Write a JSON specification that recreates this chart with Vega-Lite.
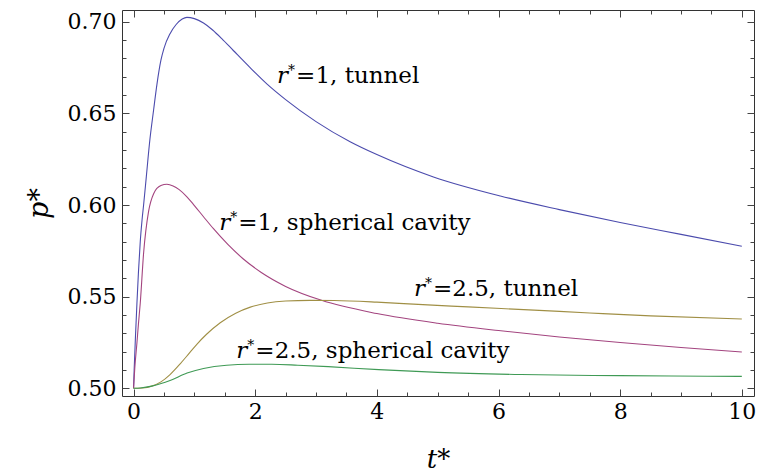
{
  "$schema": "https://vega.github.io/schema/vega-lite/v6.json",
  "width": 632,
  "height": 386,
  "autosize": "none",
  "padding": {"left": 122, "top": 10, "right": 6, "bottom": 79},
  "background": "white",
  "config": {
    "view": {"stroke": null},
    "font": "DejaVu Serif",
    "axis": {
      "grid": false,
      "labelFont": "DejaVu Serif",
      "titleFont": "DejaVu Serif",
      "labelColor": "#000",
      "titleColor": "#000",
      "tickColor": "#444",
      "domainColor": "#333",
      "labelFontWeight": "normal",
      "titleFontWeight": "normal"
    }
  },
  "datasets": {
    "curves": [
      {"series": "r1 tunnel", "t": 0, "p": 0.5},
      {"series": "r1 tunnel", "t": 0.01, "p": 0.51},
      {"series": "r1 tunnel", "t": 0.03, "p": 0.527},
      {"series": "r1 tunnel", "t": 0.055, "p": 0.546},
      {"series": "r1 tunnel", "t": 0.08, "p": 0.563},
      {"series": "r1 tunnel", "t": 0.11, "p": 0.58},
      {"series": "r1 tunnel", "t": 0.14, "p": 0.592},
      {"series": "r1 tunnel", "t": 0.165, "p": 0.6},
      {"series": "r1 tunnel", "t": 0.21, "p": 0.6155},
      {"series": "r1 tunnel", "t": 0.263, "p": 0.634},
      {"series": "r1 tunnel", "t": 0.33, "p": 0.652},
      {"series": "r1 tunnel", "t": 0.385, "p": 0.666},
      {"series": "r1 tunnel", "t": 0.45, "p": 0.679},
      {"series": "r1 tunnel", "t": 0.5, "p": 0.6855},
      {"series": "r1 tunnel", "t": 0.6, "p": 0.6935},
      {"series": "r1 tunnel", "t": 0.7, "p": 0.6985},
      {"series": "r1 tunnel", "t": 0.8, "p": 0.7015},
      {"series": "r1 tunnel", "t": 0.877, "p": 0.7024},
      {"series": "r1 tunnel", "t": 1.0, "p": 0.7017},
      {"series": "r1 tunnel", "t": 1.15, "p": 0.6993},
      {"series": "r1 tunnel", "t": 1.3, "p": 0.6955},
      {"series": "r1 tunnel", "t": 1.45, "p": 0.6908},
      {"series": "r1 tunnel", "t": 1.64, "p": 0.6843},
      {"series": "r1 tunnel", "t": 1.92, "p": 0.6748},
      {"series": "r1 tunnel", "t": 2.2, "p": 0.6658},
      {"series": "r1 tunnel", "t": 2.5, "p": 0.6575},
      {"series": "r1 tunnel", "t": 3.0, "p": 0.6455},
      {"series": "r1 tunnel", "t": 3.56, "p": 0.6345},
      {"series": "r1 tunnel", "t": 4.0, "p": 0.6275},
      {"series": "r1 tunnel", "t": 4.93, "p": 0.6153},
      {"series": "r1 tunnel", "t": 6.03, "p": 0.6049},
      {"series": "r1 tunnel", "t": 7.0, "p": 0.5975},
      {"series": "r1 tunnel", "t": 8.0, "p": 0.5905},
      {"series": "r1 tunnel", "t": 9.0, "p": 0.584},
      {"series": "r1 tunnel", "t": 10.0, "p": 0.5775},

      {"series": "r1 sphere", "t": 0, "p": 0.5},
      {"series": "r1 sphere", "t": 0.02, "p": 0.511},
      {"series": "r1 sphere", "t": 0.055, "p": 0.5246},
      {"series": "r1 sphere", "t": 0.08, "p": 0.535},
      {"series": "r1 sphere", "t": 0.11, "p": 0.5464},
      {"series": "r1 sphere", "t": 0.165, "p": 0.5737},
      {"series": "r1 sphere", "t": 0.247, "p": 0.5965},
      {"series": "r1 sphere", "t": 0.33, "p": 0.6062},
      {"series": "r1 sphere", "t": 0.45, "p": 0.6106},
      {"series": "r1 sphere", "t": 0.549, "p": 0.6113},
      {"series": "r1 sphere", "t": 0.65, "p": 0.6104},
      {"series": "r1 sphere", "t": 0.75, "p": 0.6084},
      {"series": "r1 sphere", "t": 0.877, "p": 0.6045},
      {"series": "r1 sphere", "t": 1.0, "p": 0.5997},
      {"series": "r1 sphere", "t": 1.15, "p": 0.5936},
      {"series": "r1 sphere", "t": 1.31, "p": 0.5872},
      {"series": "r1 sphere", "t": 1.55, "p": 0.5785},
      {"series": "r1 sphere", "t": 1.8, "p": 0.5707},
      {"series": "r1 sphere", "t": 2.1, "p": 0.5632},
      {"series": "r1 sphere", "t": 2.5, "p": 0.5556},
      {"series": "r1 sphere", "t": 3.09, "p": 0.548},
      {"series": "r1 sphere", "t": 4.0, "p": 0.5408},
      {"series": "r1 sphere", "t": 5.0, "p": 0.5355},
      {"series": "r1 sphere", "t": 6.0, "p": 0.5315},
      {"series": "r1 sphere", "t": 7.0, "p": 0.528},
      {"series": "r1 sphere", "t": 8.0, "p": 0.525},
      {"series": "r1 sphere", "t": 9.0, "p": 0.5223},
      {"series": "r1 sphere", "t": 10.0, "p": 0.5198},

      {"series": "r2.5 tunnel", "t": 0, "p": 0.5},
      {"series": "r2.5 tunnel", "t": 0.15, "p": 0.5002},
      {"series": "r2.5 tunnel", "t": 0.3, "p": 0.5012},
      {"series": "r2.5 tunnel", "t": 0.45, "p": 0.5035},
      {"series": "r2.5 tunnel", "t": 0.6, "p": 0.5075},
      {"series": "r2.5 tunnel", "t": 0.77, "p": 0.5135},
      {"series": "r2.5 tunnel", "t": 0.9, "p": 0.5185},
      {"series": "r2.5 tunnel", "t": 1.04, "p": 0.524},
      {"series": "r2.5 tunnel", "t": 1.2, "p": 0.5295},
      {"series": "r2.5 tunnel", "t": 1.425, "p": 0.5358},
      {"series": "r2.5 tunnel", "t": 1.68, "p": 0.541},
      {"series": "r2.5 tunnel", "t": 1.92, "p": 0.5443},
      {"series": "r2.5 tunnel", "t": 2.2, "p": 0.5465},
      {"series": "r2.5 tunnel", "t": 2.5, "p": 0.5476},
      {"series": "r2.5 tunnel", "t": 2.9, "p": 0.548},
      {"series": "r2.5 tunnel", "t": 3.3, "p": 0.5479},
      {"series": "r2.5 tunnel", "t": 4.0, "p": 0.547},
      {"series": "r2.5 tunnel", "t": 4.6, "p": 0.5459},
      {"series": "r2.5 tunnel", "t": 5.5, "p": 0.5444},
      {"series": "r2.5 tunnel", "t": 6.5, "p": 0.5428},
      {"series": "r2.5 tunnel", "t": 7.5, "p": 0.5411},
      {"series": "r2.5 tunnel", "t": 8.5, "p": 0.5395},
      {"series": "r2.5 tunnel", "t": 10.0, "p": 0.5378},

      {"series": "r2.5 sphere", "t": 0, "p": 0.5},
      {"series": "r2.5 sphere", "t": 0.11, "p": 0.5002},
      {"series": "r2.5 sphere", "t": 0.3, "p": 0.5012},
      {"series": "r2.5 sphere", "t": 0.44, "p": 0.5025},
      {"series": "r2.5 sphere", "t": 0.6, "p": 0.5043},
      {"series": "r2.5 sphere", "t": 0.88, "p": 0.5083},
      {"series": "r2.5 sphere", "t": 1.15, "p": 0.5108},
      {"series": "r2.5 sphere", "t": 1.53, "p": 0.5126},
      {"series": "r2.5 sphere", "t": 1.9, "p": 0.5131},
      {"series": "r2.5 sphere", "t": 2.27, "p": 0.5131},
      {"series": "r2.5 sphere", "t": 2.7, "p": 0.5126},
      {"series": "r2.5 sphere", "t": 3.2, "p": 0.5118},
      {"series": "r2.5 sphere", "t": 4.03, "p": 0.5102},
      {"series": "r2.5 sphere", "t": 5.0, "p": 0.5087},
      {"series": "r2.5 sphere", "t": 6.37, "p": 0.5075},
      {"series": "r2.5 sphere", "t": 8.0, "p": 0.5069},
      {"series": "r2.5 sphere", "t": 9.43, "p": 0.5066},
      {"series": "r2.5 sphere", "t": 10.0, "p": 0.5065}
    ],
    "labels": [
      {"t": 2.36, "p": 0.6668, "rest": "=1, tunnel"},
      {"t": 1.41, "p": 0.5862, "rest": "=1, spherical cavity"},
      {"t": 4.61, "p": 0.5502, "rest": "=2.5, tunnel"},
      {"t": 1.69, "p": 0.5164, "rest": "=2.5, spherical cavity"}
    ]
  },
  "layer": [
    {
      "data": {"name": "curves"},
      "mark": {"type": "line", "strokeWidth": 1.1, "interpolate": "monotone", "clip": true},
      "encoding": {
        "x": {
          "field": "t", "type": "quantitative",
          "scale": {"domain": [-0.19, 10.2], "nice": false, "zero": false},
          "axis": {
            "orient": "bottom", "values": [0, 2, 4, 6, 8, 10], "format": "d",
            "tickSize": -7, "labelPadding": 12, "labelFontSize": 22,
            "title": "t*", "titleFontStyle": "italic", "titleFontSize": 26, "titlePadding": 24
          }
        },
        "y": {
          "field": "p", "type": "quantitative",
          "scale": {"domain": [0.4958, 0.7064], "nice": false, "zero": false},
          "axis": {
            "orient": "left", "values": [0.5, 0.55, 0.6, 0.65, 0.7], "format": ".2f",
            "tickSize": -7, "labelPadding": 13, "labelFontSize": 22,
            "title": "p*", "titleFontStyle": "italic", "titleFontSize": 27, "titlePadding": 14
          }
        },
        "color": {
          "field": "series", "type": "nominal",
          "scale": {
            "domain": ["r1 tunnel", "r1 sphere", "r2.5 tunnel", "r2.5 sphere"],
            "range": ["#4b4bad", "#a3447f", "#a08f45", "#3f9a55"]
          },
          "legend": null
        },
        "detail": {"field": "series"}
      }
    },
    {
      "data": {"name": "labels"},
      "mark": {"type": "text", "align": "left", "baseline": "alphabetic", "font": "DejaVu Serif", "fontSize": 23, "fontStyle": "italic", "color": "#000"},
      "encoding": {
        "x": {
          "field": "t", "type": "quantitative",
          "axis": {
            "orient": "bottom", "values": [0, 0.5, 1, 1.5, 2, 2.5, 3, 3.5, 4, 4.5, 5, 5.5, 6, 6.5, 7, 7.5, 8, 8.5, 9, 9.5, 10],
            "tickSize": -4, "labels": false, "domain": false, "title": null
          }
        },
        "y": {
          "field": "p", "type": "quantitative",
          "axis": {
            "orient": "left", "values": [0.5, 0.51, 0.52, 0.53, 0.54, 0.55, 0.56, 0.57, 0.58, 0.59, 0.6, 0.61, 0.62, 0.63, 0.64, 0.65, 0.66, 0.67, 0.68, 0.69, 0.7],
            "tickSize": -4, "labels": false, "domain": false, "title": null
          }
        },
        "text": {"value": "r"}
      }
    },
    {
      "data": {"name": "labels"},
      "mark": {"type": "text", "align": "left", "baseline": "alphabetic", "font": "DejaVu Serif", "fontSize": 14, "dx": 11, "dy": -8, "color": "#000"},
      "encoding": {
        "x": {
          "field": "t", "type": "quantitative",
          "axis": {
            "orient": "top", "values": [0, 2, 4, 6, 8, 10],
            "tickSize": -7, "labels": false, "domain": true, "title": null
          }
        },
        "y": {
          "field": "p", "type": "quantitative",
          "axis": {
            "orient": "right", "values": [0.5, 0.55, 0.6, 0.65, 0.7],
            "tickSize": -7, "labels": false, "domain": true, "title": null
          }
        },
        "text": {"value": "*"}
      }
    },
    {
      "data": {"name": "labels"},
      "mark": {"type": "text", "align": "left", "baseline": "alphabetic", "font": "DejaVu Serif", "fontSize": 23, "dx": 19, "color": "#000"},
      "encoding": {
        "x": {
          "field": "t", "type": "quantitative",
          "axis": {
            "orient": "top", "values": [0, 0.5, 1, 1.5, 2, 2.5, 3, 3.5, 4, 4.5, 5, 5.5, 6, 6.5, 7, 7.5, 8, 8.5, 9, 9.5, 10],
            "tickSize": -4, "labels": false, "domain": false, "title": null
          }
        },
        "y": {
          "field": "p", "type": "quantitative",
          "axis": {
            "orient": "right", "values": [0.5, 0.51, 0.52, 0.53, 0.54, 0.55, 0.56, 0.57, 0.58, 0.59, 0.6, 0.61, 0.62, 0.63, 0.64, 0.65, 0.66, 0.67, 0.68, 0.69, 0.7],
            "tickSize": -4, "labels": false, "domain": false, "title": null
          }
        },
        "text": {"field": "rest"}
      }
    }
  ],
  "resolve": {"axis": {"x": "independent", "y": "independent"}}
}
